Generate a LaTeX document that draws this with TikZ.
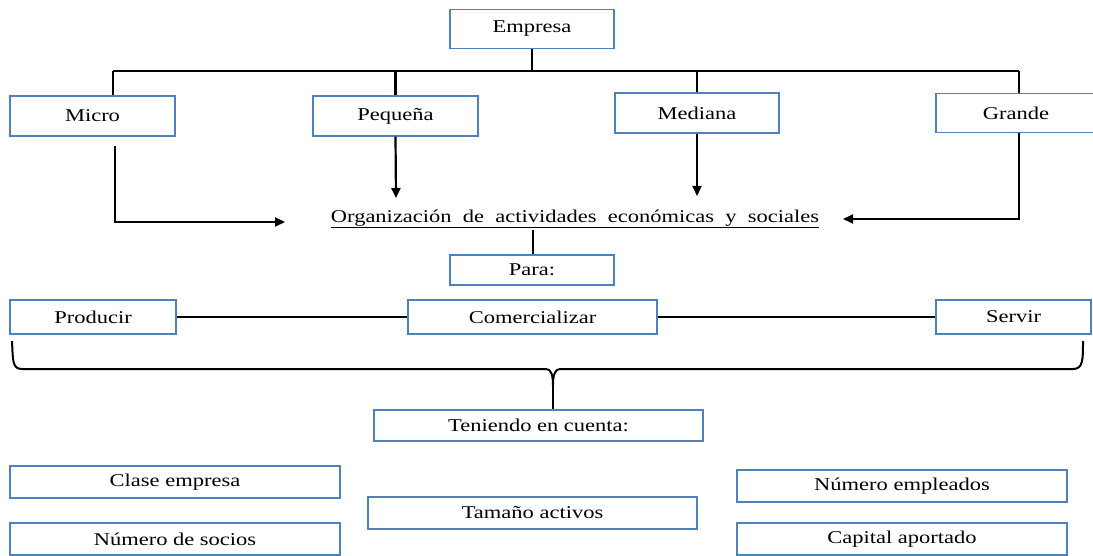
\documentclass[tikz,border=0pt]{standalone}
\usepackage{fontspec}
\setmainfont[FakeStretch=1.25]{Liberation Serif}
\usetikzlibrary{arrows.meta}
\definecolor{boxblue}{RGB}{79,129,189}
\tikzset{
  bx/.style={draw=boxblue, line width=1.3pt, fill=white, inner sep=0pt,
    font=\fontsize{18}{21}\selectfont, text=black},
  conn/.style={draw=black, line width=2.2pt},
  arr/.style={conn, -{Triangle[length=10pt,width=9pt]}},
  bracel/.style={draw=black, line width=2pt, line join=round},
  lbl/.style={inner sep=0pt, font=\fontsize{18}{21}\selectfont}
}
\begin{document}
\begin{tikzpicture}[x=1pt,y=-1pt]
\useasboundingbox (0,0) rectangle (1093,556);
% boxes
\node[bx, minimum width=164pt, minimum height=39pt] (emp) at (532,29) {Empresa};
\node[bx, minimum width=165pt, minimum height=40pt] (micro) at (92.5,116) {Micro};
\node[bx, minimum width=165pt, minimum height=40pt] (peq) at (395.5,116) {Pequeña};
\node[bx, minimum width=164pt, minimum height=40pt] (med) at (697,113) {Mediana};
\node[bx, minimum width=160pt, minimum height=39pt] (gra) at (1016,113) {Grande};
\node[lbl] (org) at (575,219) {\underline{Organización\ \ de\ \ actividades\ \ económicas\ \ y\ \ sociales}};
\node[bx, minimum width=164pt, minimum height=30pt] (para) at (532,270) {Para:};
\node[bx, minimum width=166pt, minimum height=34pt] (prod) at (93,317) {Producir};
\node[bx, minimum width=249pt, minimum height=34pt] (com) at (532.5,317) {Comercializar};
\node[bx, minimum width=155pt, minimum height=34pt] (serv) at (1013.5,317) {Servir};
\node[bx, minimum width=329pt, minimum height=31pt] (ten) at (538.5,425.5) {Teniendo en cuenta:};
\node[bx, minimum width=330pt, minimum height=32pt] (clase) at (175,482) {Clase empresa};
\node[bx, minimum width=330pt, minimum height=32pt] (socios) at (175,539) {Número de socios};
\node[bx, minimum width=329pt, minimum height=32pt] (tam) at (532.5,513) {Tamaño activos};
\node[bx, minimum width=330pt, minimum height=32pt] (emple) at (902,486) {Número empleados};
\node[bx, minimum width=330pt, minimum height=32pt] (capital) at (902,539) {Capital aportado};
% bus
\coordinate (busL) at (113,71);
\coordinate (busR) at (1019,71);
\draw[conn] (busL) -- (busR);
\draw[conn] (emp.south) -- (emp.south |- busL);
\draw[conn] (busL) -- (busL |- micro.north);
\draw[conn] (peq.north |- busL) -- (peq.north);
\draw[conn] (med.north |- busL) -- (med.north);
\draw[conn] (busR) -- (busR |- gra.north);
% arrows to org
\coordinate (mS) at (115,146);
\coordinate (mC) at (115,222);
\coordinate (mE) at (285,222);
\draw[arr] (mS) -- (mC) -- (mE);
\coordinate (pE) at (396,198);
\draw[arr] (peq.south) -- (pE);
\coordinate (dE) at (697,196);
\draw[arr] (med.south) -- (dE);
\coordinate (gS) at (1019,133);
\coordinate (gC) at (1019,219);
\coordinate (gE) at (843,219);
\draw[arr] (gS) -- (gC) -- (gE);
% org to para
\coordinate (oS) at (533,230);
\draw[conn] (oS) -- (oS |- para.north);
% row links
\draw[conn, line width=1.8pt] (prod.east) -- (com.west);
\draw[conn, line width=1.8pt] (com.east) -- (serv.west);
% brace
\coordinate (bL) at (12,341);
\coordinate (bR) at (1083,341);
\coordinate (bT) at (553,385);
\draw[bracel] (bL) .. controls (13,360) and (12,369) .. (22,369) -- (546,369)
  .. controls (551,369) and (553,375) .. (bT);
\draw[bracel] (bR) .. controls (1083,360) and (1083,369) .. (1073,369) -- (560,369)
  .. controls (555,369) and (553,375) .. (bT);
\draw[bracel] (bT) -- (bT |- ten.north);
\end{tikzpicture}
\end{document}
